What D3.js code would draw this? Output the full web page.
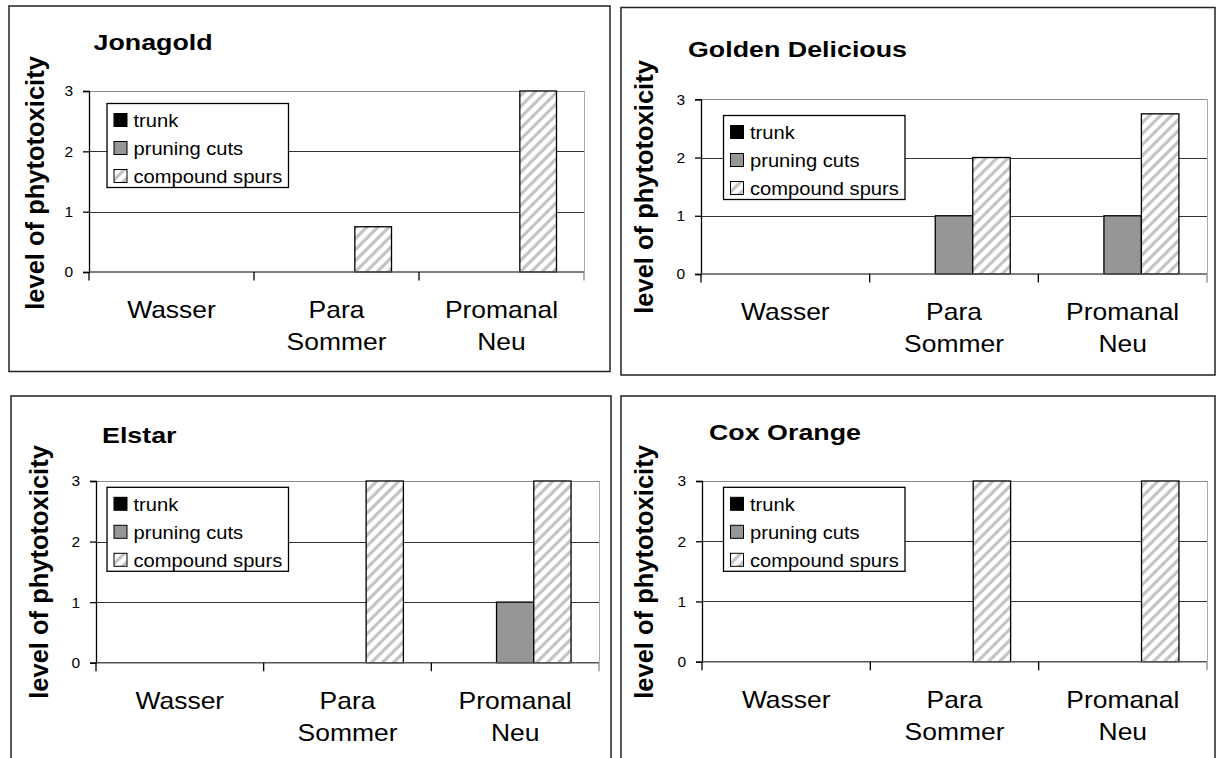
<!DOCTYPE html>
<html>
<head>
<meta charset="utf-8">
<title>Phytotoxicity</title>
<style>
	body { margin: 0; background: #fff; }
	svg { display: block; }
	text { font-family: "Liberation Sans", Arial, sans-serif; fill: #000; }
	.title { font-size: 22px; font-weight: bold; }
	.ylabel { font-size: 25.5px; font-weight: bold; }
	.catText { font-size: 23px; }
	.legText { font-size: 19px; }
</style>
</head>
<body>
<svg id="chart" width="1216" height="758"></svg>
<script src="https://cdn.jsdelivr.net/npm/d3@7"></script>
<script>

// data
var cultivars = ['Jonagold', 'Golden Delicious', 'Elstar', 'Cox Orange'];
var categories = ['Wasser', 'Para Sommer', 'Promanal Neu'];
var categoryLines = [['Wasser'], ['Para', 'Sommer'], ['Promanal', 'Neu']];
var seriesNames = ['trunk', 'pruning cuts', 'compound spurs'];
var trunk = [[0, 0, 0], [0, 0, 0], [0, 0, 0], [0, 0, 0]];
var pruningCuts = [[0, 0, 0], [0, 1, 1], [0, 0, 1], [0, 0, 0]];
var compoundSpurs = [[0, 0.75, 3], [0, 2, 2.75], [0, 3, 3], [0, 3, 3]];
var yTicks = [0, 1, 2, 3];
var yLabel = 'level of phytotoxicity';

// layout of the four panels (box, plot area, title, legend, axis label)
var panels = [
	{box: [9, 6, 610, 371.5], plot: [89, 584, 91, 272], title: [93.5, 50], legend: [107, 103.5], ylab: [44, 183]},
	{box: [621, 7.5, 1215, 375], plot: [701, 1207, 99.3, 274], title: [688, 56.5], legend: [723.5, 115.5], ylab: [653, 187]},
	{box: [11, 396, 611, 770], plot: [96, 599, 481, 662.7], title: [102, 443.3], legend: [107, 487.3], ylab: [48, 572]},
	{box: [621, 396, 1215, 770], plot: [702, 1207, 481, 661.7], title: [709, 440], legend: [723.5, 487.3], ylab: [653, 572]}
];

var seriesFill = ['#000000', '#969696', 'url(#stripes)'];
var legendW = 181.5, legendH = 84;

var svg = d3.select('#chart');

var defs = svg.append('defs');
var pat = defs.append('pattern')
	.attr('id', 'stripes')
	.attr('patternUnits', 'userSpaceOnUse')
	.attr('width', 11)
	.attr('height', 11);
pat.append('rect').attr('width', 11).attr('height', 11).attr('fill', '#fff');
pat.append('path')
	.attr('d', 'M-3,3 L3,-3 M0,11 L11,0 M8,14 L14,8')
	.attr('stroke', '#c4c4c4')
	.attr('stroke-width', 3.2);

function sText(g, x, y, sx, txt, cls, anchor) {
	return g.append('text')
		.attr('class', cls)
		.attr('text-anchor', anchor || 'start')
		.attr('transform', 'translate(' + x + ',' + y + ') scale(' + sx + ',1)')
		.text(txt);
}

panels.forEach(function(p, k) {
	var g = svg.append('g');

	g.append('rect')
		.attr('x', p.box[0]).attr('y', p.box[1])
		.attr('width', p.box[2] - p.box[0]).attr('height', p.box[3] - p.box[1])
		.attr('fill', '#fff').attr('stroke', '#222').attr('stroke-width', 1.5);

	var x = d3.scaleBand().domain(categories).range([p.plot[0], p.plot[1]]);
	var xs = d3.scaleBand().domain(seriesNames).range([0, x.bandwidth()]).paddingOuter(0.75);
	var y = d3.scaleLinear().domain([0, 3]).range([p.plot[3], p.plot[2]]);

	// gridlines
	g.selectAll('.grid')
		.data(yTicks.filter(function(d) { return d > 0; }))
		.enter().append('line')
		.attr('x1', p.plot[0]).attr('x2', p.plot[1])
		.attr('y1', function(d) { return Math.round(y(d)) + 0.5; })
		.attr('y2', function(d) { return Math.round(y(d)) + 0.5; })
		.attr('stroke', function(d) { return d === 3 ? '#888' : '#333'; })
		.attr('stroke-width', 1);

	// plot area right edge
	g.append('line')
		.attr('x1', p.plot[1] + 0.5).attr('x2', p.plot[1] + 0.5)
		.attr('y1', y(3)).attr('y2', y(0))
		.attr('stroke', '#aaa');

	// bars
	var series = [trunk[k], pruningCuts[k], compoundSpurs[k]];
	seriesNames.forEach(function(s, j) {
		g.selectAll('.bar' + j)
			.data(series[j].map(function(v, i) { return {c: categories[i], v: v}; }).filter(function(d) { return d.v > 0; }))
			.enter().append('rect')
			.attr('x', function(d) { return x(d.c) + xs(s); })
			.attr('width', xs.bandwidth())
			.attr('y', function(d) { return y(d.v); })
			.attr('height', function(d) { return y(0) - y(d.v); })
			.attr('fill', seriesFill[j])
			.attr('stroke', '#000')
			.attr('stroke-width', 1.3);
	});

	// y axis
	var yAxis = d3.axisLeft(y).tickValues(yTicks).tickSize(6).tickPadding(10).tickFormat(d3.format('d'));
	var ya = g.append('g').attr('transform', 'translate(' + p.plot[0] + ',0)').call(yAxis);
	ya.select('.domain').attr('stroke', '#000').attr('stroke-width', 1.3);
	ya.selectAll('.tick line').attr('stroke', '#000').attr('stroke-width', 1.3);
	ya.selectAll('.tick text')
		.attr('fill', '#000')
		.style('font-family', '"Liberation Sans", Arial, sans-serif')
		.style('font-size', '15.5px');

	// x axis
	g.append('line')
		.attr('x1', p.plot[0]).attr('x2', p.plot[1])
		.attr('y1', y(0)).attr('y2', y(0))
		.attr('stroke', '#555').attr('stroke-width', 1.5);
	var bounds = categories.map(function(c) { return x(c); }).concat([p.plot[1]]);
	g.selectAll('.xtick')
		.data(bounds)
		.enter().append('line')
		.attr('x1', function(d) { return d; }).attr('x2', function(d) { return d; })
		.attr('y1', y(0)).attr('y2', y(0) + 8.5)
		.attr('stroke', function(d, i) { return i === bounds.length - 1 ? '#888' : '#000'; })
		.attr('stroke-width', 1.3);

	categories.forEach(function(c, i) {
		categoryLines[i].forEach(function(line, li) {
			sText(g, x(c) + x.bandwidth() / 2, y(0) + 46 + li * 32, 1.15, line, 'catText', 'middle');
		});
	});

	// title
	sText(g, p.title[0], p.title[1], 1.22, cultivars[k], 'title');

	// y label
	g.append('text')
		.attr('class', 'ylabel')
		.attr('text-anchor', 'middle')
		.attr('transform', 'translate(' + p.ylab[0] + ',' + p.ylab[1] + ') rotate(-90)')
		.text(yLabel);

	// legend
	var lg = g.append('g').attr('transform', 'translate(' + p.legend[0] + ',' + p.legend[1] + ')');
	lg.append('rect')
		.attr('width', legendW).attr('height', legendH)
		.attr('fill', '#fff').attr('stroke', '#000').attr('stroke-width', 1.3);
	var rows = lg.selectAll('.row')
		.data(seriesNames)
		.enter().append('g')
		.attr('transform', function(d, i) { return 'translate(0,' + (16.5 + i * 28) + ')'; });
	rows.append('rect')
		.attr('x', 7).attr('y', -6.5)
		.attr('width', 13).attr('height', 13)
		.attr('fill', function(d, i) { return seriesFill[i]; })
		.attr('stroke', '#000').attr('stroke-width', 1);
	rows.each(function(d) {
		sText(d3.select(this), 26.5, 7, 1.06, d, 'legText');
	});
});

</script>
</body>
</html>
